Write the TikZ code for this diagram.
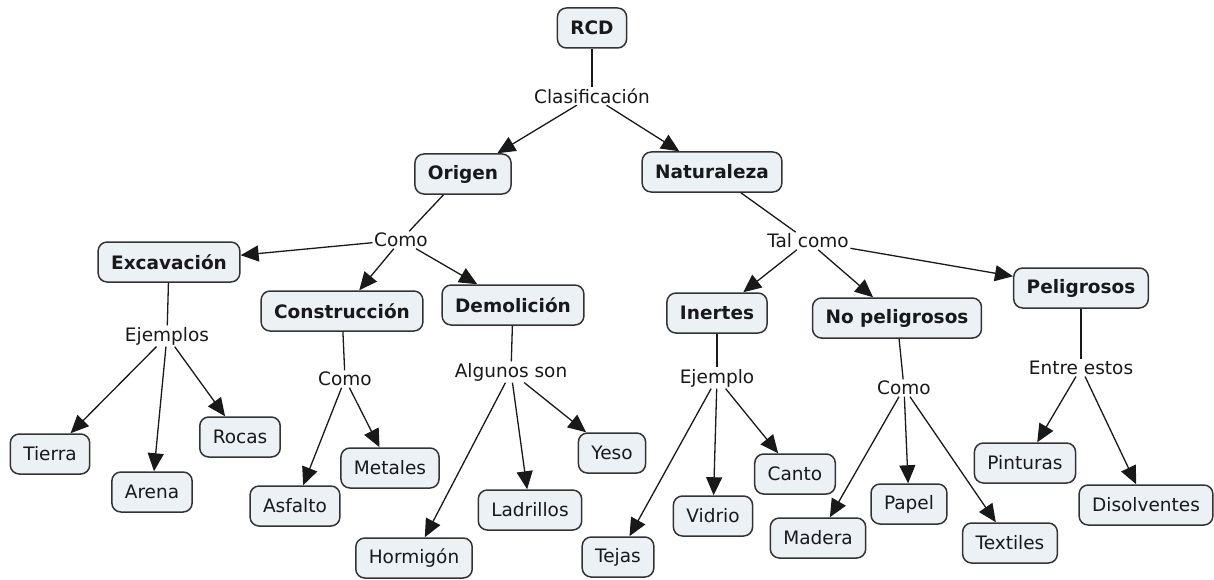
\documentclass[tikz,border=0pt]{standalone}
\usepackage{fontspec}
\setmainfont{DejaVu Sans}
\usetikzlibrary{arrows.meta}
\definecolor{concept area}{HTML}{EBF1F5}
\colorlet{concept edge}{black!80}
\colorlet{ink}{black!90}
\tikzset{
  concept/.style={draw=concept edge, fill=concept area, line width=1.5pt, rounded corners=9pt,
    minimum height=40pt, inner xsep=13pt, text=ink, font=\fontsize{18.5}{22}\selectfont},
  mainconcept/.style={concept, font=\fontsize{18.5}{22}\selectfont\bfseries},
  phrase/.style={inner sep=1.5pt, text=ink, font=\fontsize{18.5}{22}\selectfont},
  link/.style={draw=ink, line width=1.3pt},
  edge/.style={draw=ink, line width=1.3pt, -{Triangle[length=18pt,width=16pt]}},
}

\begin{document}
\begin{tikzpicture}[x=1pt, y=-1pt]
    \useasboundingbox (0,0) rectangle (1214,580);

    % concepts
    \node[mainconcept] (rcd) at (592,28) {RCD};
    \node[mainconcept] (origen) at (463,174) {Origen};
    \node[mainconcept] (naturaleza) at (712,172) {Naturaleza};
    \node[mainconcept] (excavacion) at (169,262) {Excavación};
    \node[mainconcept] (construccion) at (342,311) {Construcción};
    \node[mainconcept] (demolicion) at (513,305) {Demolición};
    \node[mainconcept] (inertes) at (717,313) {Inertes};
    \node[mainconcept] (nopeligrosos) at (897,318) {No peligrosos};
    \node[mainconcept] (peligrosos) at (1081,288) {Peligrosos};

    \node[concept] (tierra) at (50,454) {Tierra};
    \node[concept] (arena) at (152,492) {Arena};
    \node[concept] (rocas) at (240,437) {Rocas};
    \node[concept] (asfalto) at (295,506) {Asfalto};
    \node[concept] (metales) at (390,468) {Metales};
    \node[concept] (hormigon) at (414,558) {Hormigón};
    \node[concept] (ladrillos) at (530,510) {Ladrillos};
    \node[concept] (yeso) at (612,453) {Yeso};
    \node[concept] (tejas) at (618,557) {Tejas};
    \node[concept] (vidrio) at (713,516) {Vidrio};
    \node[concept] (canto) at (795,474) {Canto};
    \node[concept] (madera) at (818,538) {Madera};
    \node[concept] (papel) at (909,504) {Papel};
    \node[concept] (textiles) at (1010,543) {Textiles};
    \node[concept] (pinturas) at (1025,463) {Pinturas};
    \node[concept] (disolventes) at (1146,505) {Disolventes};

    % linking phrases
    \node[phrase] (clasif) at (592,96) {Clasificación};
    \node[phrase] (comoorigen) at (401,240) {Como};
    \node[phrase] (talcomo) at (808,241) {Tal como};
    \node[phrase] (ejemplos) at (167,336) {Ejemplos};
    \node[phrase] (comoconst) at (345,379) {Como};
    \node[phrase] (algunos) at (511,372) {Algunos son};
    \node[phrase] (ejemplo) at (717,378) {Ejemplo};
    \node[phrase] (comonp) at (904,388) {Como};
    \node[phrase] (entre) at (1081,368) {Entre estos};

    % connectors
    \draw[link] (rcd) -- (clasif);
    \draw[edge] (clasif) -- (origen);
    \draw[edge] (clasif) -- (naturaleza);

    \draw[link] (origen) -- (comoorigen);
    \draw[edge] (comoorigen) -- (excavacion);
    \draw[edge] (comoorigen) -- (construccion);
    \draw[edge] (comoorigen) -- (demolicion);

    \draw[link] (naturaleza) -- (talcomo);
    \draw[edge] (talcomo) -- (inertes);
    \draw[edge] (talcomo) -- (nopeligrosos);
    \draw[edge] (talcomo) -- (peligrosos);

    \draw[link] (excavacion) -- (ejemplos);
    \draw[edge] (ejemplos) -- (tierra);
    \draw[edge] (ejemplos) -- (arena);
    \draw[edge] (ejemplos) -- (rocas);

    \draw[link] (construccion) -- (comoconst);
    \draw[edge] (comoconst) -- (asfalto);
    \draw[edge] (comoconst) -- (metales);

    \draw[link] (demolicion) -- (algunos);
    \draw[edge] (algunos) -- (hormigon);
    \draw[edge] (algunos) -- (ladrillos);
    \draw[edge] (algunos) -- (yeso);

    \draw[link] (inertes) -- (ejemplo);
    \draw[edge] (ejemplo) -- (tejas);
    \draw[edge] (ejemplo) -- (vidrio);
    \draw[edge] (ejemplo) -- (canto);

    \draw[link] (nopeligrosos) -- (comonp);
    \draw[edge] (comonp) -- (madera);
    \draw[edge] (comonp) -- (papel);
    \draw[edge] (comonp) -- (textiles);

    \draw[link] (peligrosos) -- (entre);
    \draw[edge] (entre) -- (pinturas);
    \draw[edge] (entre) -- (disolventes);
\end{tikzpicture}
\end{document}
